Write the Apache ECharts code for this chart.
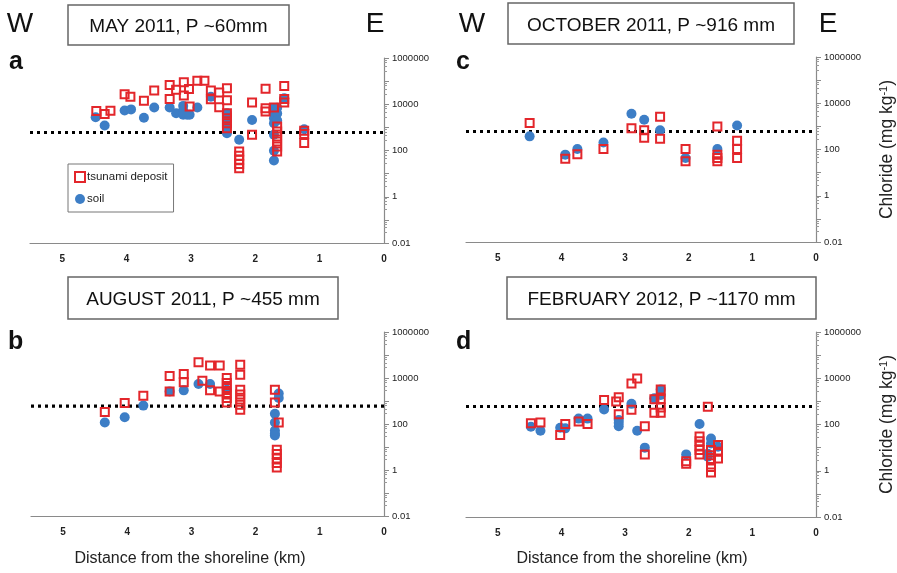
<!DOCTYPE html>
<html><head><meta charset="utf-8">
<script src="https://cdn.jsdelivr.net/npm/echarts@6/dist/echarts.min.js"></script>
<style>html,body{margin:0;padding:0;background:#fff}#c{width:897px;height:573px}</style>
</head><body><div id="c"></div>
<script>
// ---- data ----
const X_MIN = 0, X_MAX = 5.5;          // distance from shoreline (km), reversed axis
const Y_MIN = 0.01, Y_MAX = 1000000;   // chloride (mg/kg), log axis
const THRESHOLD = 600;                 // dotted reference line (mg/kg)
const PANEL_LETTERS = ['a', 'b', 'c', 'd'];
const PANEL_TITLES = ['MAY 2011, P ~60mm', 'AUGUST 2011, P ~455 mm', 'OCTOBER 2011, P ~916 mm', 'FEBRUARY 2012, P ~1170 mm'];
const SERIES_NAMES = ['tsunami deposit', 'soil'];

// panel a: May 2011
const TSUNAMI_A = [[4.47,5100],[4.34,3800],[4.25,5300],[4.03,27000],[3.94,21000],[3.73,14000],[3.57,39000],[3.33,68000],[3.33,17000],[3.23,42000],[3.11,89000],[3.11,24000],[3.03,46000],[3.02,7900],[2.90,105000],[2.79,105000],[2.69,39000],[2.69,16500],[2.56,32000],[2.56,7400],[2.44,49000],[2.44,15000],[2.44,4100],[2.44,2500],[2.44,1500],[2.44,910],[2.05,12000],[2.05,480],[1.84,47000],[1.84,6700],[1.84,4800],[1.71,7200],[1.66,1100],[1.66,660],[1.66,400],[1.66,245],[1.66,150],[1.66,91],[1.55,62000],[1.55,17000],[1.55,12000],[1.24,720],[1.24,520],[1.24,210],[2.25,91],[2.25,59],[2.25,40],[2.25,26],[2.25,17]];
const SOIL_A = [[4.48,2750],[4.34,1200],[4.03,5400],[3.93,6000],[3.73,2600],[3.57,7200],[3.33,7200],[3.23,4100],[3.12,8500],[3.12,5400],[3.12,3500],[3.06,3500],[3.02,3500],[2.90,7200],[2.69,21000],[2.44,4100],[2.44,2100],[2.44,1150],[2.44,560],[2.25,290],[2.05,2100],[1.71,6800],[1.71,4100],[1.71,2500],[1.71,1500],[1.71,480],[1.71,98],[1.71,37],[1.66,7000],[1.66,4000],[1.66,2000],[1.55,18000],[1.24,830]];
// panel b: August 2011
const TSUNAMI_B = [[4.35,330],[4.04,810],[3.75,1700],[3.34,12300],[3.34,2600],[3.12,14800],[3.12,6500],[2.89,48000],[2.83,7600],[2.71,35000],[2.71,2900],[2.56,35000],[2.56,2600],[2.45,10000],[2.45,6000],[2.45,3700],[2.45,2200],[2.45,1350],[2.45,870],[2.24,38000],[2.24,13800],[2.24,3100],[2.24,1900],[2.24,1150],[2.24,690],[2.24,420],[1.70,3100],[1.70,870],[1.64,117],[1.67,7.6],[1.67,5],[1.67,3.2],[1.67,2],[1.67,1.3]];
const SOIL_B = [[4.35,117],[4.04,195],[3.75,630],[3.34,2600],[3.12,2900],[2.89,5500],[2.71,5500],[2.45,3100],[1.70,280],[1.70,117],[1.70,52],[1.70,38],[1.70,32],[1.64,2100],[1.64,1350]];
// panel c: October 2011
const TSUNAMI_C = [[4.50,1400],[3.94,40],[3.75,62],[3.34,105],[2.90,830],[2.70,680],[2.70,320],[2.45,2600],[2.45,290],[2.05,105],[2.05,31],[1.55,980],[1.55,60],[1.55,43],[1.55,31],[1.24,240],[1.24,105],[1.24,43]];
const SOIL_C = [[4.50,370],[3.94,60],[3.75,105],[3.34,200],[2.90,3500],[2.70,1950],[2.45,680],[2.05,43],[1.55,105],[1.24,1100]];
// panel d: February 2012
const TSUNAMI_D = [[4.48,112],[4.33,123],[4.02,35],[3.94,105],[3.73,135],[3.59,105],[3.33,1150],[3.14,980],[3.10,1500],[3.10,275],[2.90,6000],[2.81,9800],[2.90,430],[2.69,85],[2.69,5],[2.54,1230],[2.54,320],[2.44,3300],[2.44,1260],[2.44,540],[2.44,320],[2.04,2.6],[2.04,2],[1.83,30],[1.83,19],[1.83,12],[1.83,7.8],[1.83,5.1],[1.70,590],[1.65,7.8],[1.65,4.7],[1.65,2.8],[1.65,1.45],[1.65,0.83],[1.54,13],[1.54,6.6],[1.54,3.4]];
const SOIL_D = [[4.48,80],[4.33,54],[4.02,72],[3.94,68],[3.73,180],[3.59,180],[3.33,450],[3.10,155],[3.10,120],[3.10,85],[2.90,780],[2.81,54],[2.69,10],[2.54,1350],[2.44,3300],[2.44,1900],[2.04,5.1],[1.83,105],[1.70,5.5],[1.70,4],[1.65,25],[1.65,15],[1.54,11]];

const TSUNAMI = [TSUNAMI_A, TSUNAMI_B, TSUNAMI_C, TSUNAMI_D];
const SOIL = [SOIL_A, SOIL_B, SOIL_C, SOIL_D];

// ---- styling / layout ----
const RED = '#e3262b', BLUE = '#3d7ec6';
const FONT = 'Liberation Sans, Arial, sans-serif';
const GRIDS = [
  {left: 30, top: 58, width: 354, height: 185},
  {left: 31, top: 332, width: 353, height: 184},
  {left: 466, top: 57, width: 353, height: 185},
  {left: 466, top: 332, width: 353, height: 185}
];
const BOXES = [
  {x: 68, y: 5, w: 221, h: 40, ty: 27},
  {x: 68, y: 277, w: 270, h: 42, ty: 300},
  {x: 508, y: 3, w: 286, h: 41, ty: 26},
  {x: 507, y: 277, w: 309, h: 42, ty: 300}
];
const LETTER_POS = [[9, 62], [8, 342], [456, 62], [456, 342]];

function yLabel(v) {
  const e = Math.round(Math.log10(v));
  if (e % 2 !== 0) return '';
  return e >= 0 ? String(Math.pow(10, e)) : Math.pow(10, e).toFixed(-e);
}

const xAxes = [], yAxes = [], series = [], graphics = [];
GRIDS.forEach((g, i) => {
  xAxes.push({
    type: 'value', gridIndex: i, min: X_MIN, max: X_MAX, interval: 1, inverse: true,
    axisLine: {show: true, onZero: false, lineStyle: {color: '#8a8a8a', width: 1.2}},
    axisTick: {show: false}, splitLine: {show: false},
    axisLabel: {color: '#222', fontSize: 10, fontWeight: 'bold', fontFamily: FONT, margin: 11,
      formatter: v => (v > 5 ? '' : String(v))}
  });
  const right = i >= 2;
  yAxes.push({
    type: 'log', logBase: 10, gridIndex: i, min: Y_MIN, max: Y_MAX, position: 'right',
    axisLine: {show: true, lineStyle: {color: '#8a8a8a', width: 1.2}},
    axisTick: {show: true, length: 5, lineStyle: {color: '#8a8a8a'}},
    minorTick: {show: true, splitNumber: 5, length: 3, lineStyle: {color: '#9a9a9a'}},
    splitLine: {show: false},
    axisLabel: {color: '#222', fontSize: 9.5, fontFamily: FONT, margin: 8, formatter: yLabel},
    name: right ? '{a|Chloride (mg kg}{s|-1}{a|)}' : '',
    nameLocation: 'middle', nameRotate: 90, nameGap: 62,
    nameTextStyle: {rich: {
      a: {fontSize: 17.5, fontFamily: FONT, color: '#222'},
      s: {fontSize: 11, fontFamily: FONT, color: '#222', verticalAlign: 'top', lineHeight: 10}
    }}
  });
  series.push({
    type: 'line', xAxisIndex: i, yAxisIndex: i, silent: true, symbol: 'none', z: 1,
    data: [[X_MAX, THRESHOLD], [X_MIN, THRESHOLD]],
    lineStyle: {color: '#000', width: 3.2, type: [3, 4]}
  });
  series.push({
    type: 'scatter', name: SERIES_NAMES[1], xAxisIndex: i, yAxisIndex: i, z: 2,
    symbol: 'circle', symbolSize: 10, itemStyle: {color: BLUE, opacity: 1},
    data: SOIL[i]
  });
  series.push({
    type: 'scatter', name: SERIES_NAMES[0], xAxisIndex: i, yAxisIndex: i, z: 3,
    symbol: 'rect', symbolSize: 8,
    itemStyle: {color: 'rgba(255,255,255,0)', borderColor: RED, borderWidth: 2, opacity: 1},
    data: TSUNAMI[i]
  });

  const b = BOXES[i];
  graphics.push({type: 'rect', shape: {x: b.x, y: b.y, width: b.w, height: b.h},
    style: {fill: '#fff', stroke: '#666', lineWidth: 1.5}, z: 10});
  graphics.push({type: 'text', x: b.x + b.w / 2, y: b.ty, z: 11,
    style: {text: PANEL_TITLES[i], fontSize: 19, fontFamily: FONT, fill: '#111', align: 'center', verticalAlign: 'middle'}});
  graphics.push({type: 'text', x: LETTER_POS[i][0], y: LETTER_POS[i][1], z: 11,
    style: {text: PANEL_LETTERS[i], fontSize: 25, fontWeight: 'bold', fontFamily: FONT, fill: '#111', align: 'left', verticalAlign: 'middle'}});
});

// W / E direction labels on top panels
[[20, 24, 'W'], [375, 24, 'E'], [472, 24, 'W'], [828, 24, 'E']].forEach(([x, y, t]) => {
  graphics.push({type: 'text', x, y, z: 11,
    style: {text: t, fontSize: 28, fontFamily: FONT, fill: '#111', align: 'center', verticalAlign: 'middle'}});
});
// x-axis titles under the bottom panels
[[190, 559], [632, 559]].forEach(([x, y]) => {
  graphics.push({type: 'text', x, y, z: 11,
    style: {text: 'Distance from the shoreline (km)', fontSize: 16, fontFamily: FONT, fill: '#222', align: 'center', verticalAlign: 'middle'}});
});

const chart = echarts.init(document.getElementById('c'), null, {renderer: 'canvas'});
chart.setOption({
  animation: false,
  backgroundColor: '#fff',
  grid: GRIDS.map(g => Object.assign({containLabel: false}, g)),
  xAxis: xAxes,
  yAxis: yAxes,
  legend: {
    orient: 'vertical', left: 68, top: 164, padding: [7, 6, 7, 6], itemGap: 10,
    itemWidth: 10, itemHeight: 10, borderColor: '#777', borderWidth: 1, backgroundColor: '#fff',
    textStyle: {fontSize: 11.5, fontFamily: FONT, color: '#222', padding: [0, 0, 0, -3]},
    selectedMode: false,
    data: [
      {name: SERIES_NAMES[0], icon: 'rect', itemStyle: {color: 'rgba(255,255,255,0)', borderColor: RED, borderWidth: 2}},
      {name: SERIES_NAMES[1], icon: 'circle', itemStyle: {color: BLUE}}
    ]
  },
  graphic: graphics,
  series: series
});
</script>
</body></html>
